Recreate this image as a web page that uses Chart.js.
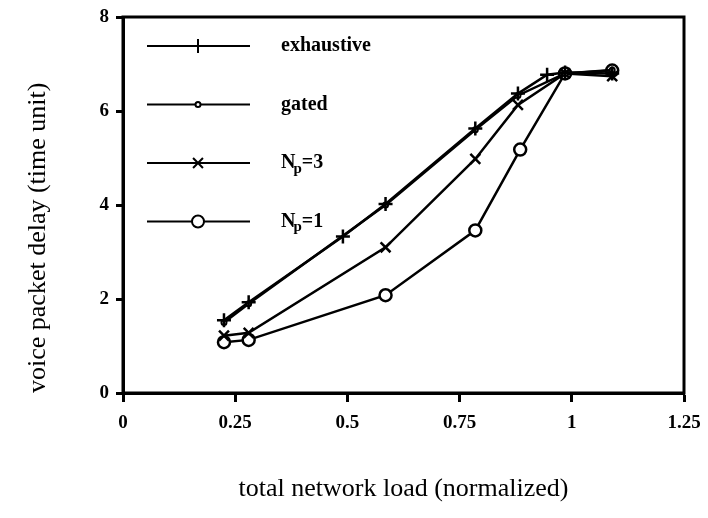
<!DOCTYPE html>
<html>
<head>
<meta charset="utf-8">
<script src="https://cdn.jsdelivr.net/npm/chart.js@4/dist/chart.umd.min.js"></script>
<style>
  html, body { margin: 0; padding: 0; background: #fff; }
  #wrap { width: 708px; height: 518px; }
</style>
</head>
<body>
<div id="wrap"><canvas id="grafico" width="708" height="518"></canvas></div>
<script>
// carga total normalizada y retardo medio de paquetes de voz
const exhaustiveX = [0.225, 0.28, 0.49, 0.585, 0.785, 0.88, 0.945, 0.985, 1.09];
const exhaustiveY = [1.55, 1.93, 3.33, 4.02, 5.63, 6.37, 6.77, 6.82, 6.80];

const gatedX = [0.225, 0.28, 0.585, 0.785, 0.88, 0.985, 1.09];
const gatedY = [1.50, 1.90, 4.00, 5.60, 6.33, 6.80, 6.87];

const np3X = [0.225, 0.28, 0.585, 0.785, 0.88, 0.985, 1.09];
const np3Y = [1.22, 1.28, 3.10, 4.98, 6.13, 6.80, 6.74];

const np1X = [0.225, 0.28, 0.585, 0.785, 0.885, 0.985, 1.09];
const np1Y = [1.08, 1.13, 2.08, 3.46, 5.18, 6.80, 6.86];

const xTicks = ['0', '0.25', '0.5', '0.75', '1', '1.25'];
const yTicks = ['0', '2', '4', '6', '8'];

const serie = (xs, ys) => xs.map((x, i) => ({ x: x, y: ys[i] }));

const fuenteTicks = { family: 'Liberation Serif', size: 19, weight: 'bold' };
const fuenteTitulo = { family: 'Liberation Serif', size: 26 };

// marco y leyenda dibujados dentro del área del gráfico
const leyenda = {
    id: 'leyenda',
    afterDraw(chart) {
        const ctx = chart.ctx;
        const area = chart.chartArea;
        ctx.save();
        ctx.strokeStyle = '#000';
        ctx.lineWidth = 3;
        ctx.strokeRect(area.left, area.top, area.right - area.left, area.bottom - area.top);

        const x0 = area.left + 24, x1 = area.left + 127, xm = area.left + 75, xt = area.left + 158;
        let y = area.top + 29;
        chart.data.datasets.forEach(ds => {
            ctx.strokeStyle = '#000';
            ctx.lineWidth = 2;
            ctx.beginPath();
            ctx.moveTo(x0, y);
            ctx.lineTo(x1, y);
            ctx.stroke();
            ctx.fillStyle = '#fff';
            Chart.helpers.drawPoint(ctx, {
                pointStyle: ds.pointStyle,
                radius: ds.pointRadius,
                borderWidth: ds.pointBorderWidth
            }, xm, y);
            ctx.fillStyle = '#000';
            ctx.textBaseline = 'middle';
            ctx.font = 'bold 20px "Liberation Serif"';
            if (ds.sub) {
                ctx.fillText('N', xt, y);
                const w = ctx.measureText('N').width;
                ctx.font = 'bold 15px "Liberation Serif"';
                ctx.fillText('p', xt + w - 2, y + 6);
                const w2 = ctx.measureText('p').width;
                ctx.font = 'bold 20px "Liberation Serif"';
                ctx.fillText(ds.sub, xt + w + w2 - 2, y);
            } else {
                ctx.fillText(ds.label, xt, y);
            }
            y += 58.5;
        });
        ctx.restore();
    }
};

const ctx = document.getElementById('grafico').getContext('2d');
const miGrafico = new Chart(ctx, {
    type: 'line',
    data: {
        datasets: [
            {
                label: 'exhaustive', data: serie(exhaustiveX, exhaustiveY),
                pointStyle: 'cross', pointRadius: 7, pointBorderWidth: 2.5
            },
            {
                label: 'gated', data: serie(gatedX, gatedY),
                pointStyle: 'circle', pointRadius: 2.5, pointBorderWidth: 2
            },
            {
                label: 'Np=3', sub: '=3', data: serie(np3X, np3Y),
                pointStyle: 'crossRot', pointRadius: 7, pointBorderWidth: 2.5
            },
            {
                label: 'Np=1', sub: '=1', data: serie(np1X, np1Y),
                pointStyle: 'circle', pointRadius: 6, pointBorderWidth: 2.5
            }
        ].map(ds => Object.assign({
            borderColor: '#000',
            backgroundColor: '#fff',
            pointBorderColor: '#000',
            pointBackgroundColor: '#fff',
            borderWidth: 2.5,
            tension: 0,
            fill: false
        }, ds))
    },
    options: {
        responsive: false,
        animation: false,
        layout: { padding: { top: 17, right: 24, bottom: 0, left: 0 } },
        plugins: {
            legend: { display: false },
            tooltip: { enabled: false }
        },
        scales: {
            x: {
                type: 'linear',
                min: 0,
                max: 1.25,
                afterFit: s => { s.height = 125; s.paddingLeft = 0; s.paddingRight = 0; },
                grid: { display: true, drawOnChartArea: false, drawTicks: true, tickLength: 9, tickWidth: 3, color: '#000' },
                border: { display: true, color: '#000', width: 3 },
                ticks: {
                    stepSize: 0.25,
                    color: '#000',
                    font: fuenteTicks,
                    padding: 10,
                    callback: (v, i) => xTicks[i]
                },
                title: {
                    display: true,
                    text: 'total network load (normalized)',
                    color: '#000',
                    font: fuenteTitulo,
                    padding: { top: 0, bottom: 13 }
                }
            },
            y: {
                type: 'linear',
                min: 0,
                max: 8,
                afterFit: s => { s.width = 123; s.paddingTop = 0; s.paddingBottom = 0; },
                grid: { display: true, drawOnChartArea: false, drawTicks: true, tickLength: 7, tickWidth: 3, color: '#000' },
                border: { display: true, color: '#000', width: 3 },
                ticks: {
                    stepSize: 2,
                    color: '#000',
                    font: fuenteTicks,
                    padding: 7,
                    callback: (v, i) => yTicks[i]
                },
                title: {
                    display: true,
                    align: 'start',
                    text: 'voice packet delay (time unit)',
                    color: '#000',
                    font: fuenteTitulo,
                    padding: { top: 23, bottom: 0 }
                }
            }
        }
    },
    plugins: [leyenda]
});
</script>
</body>
</html>
